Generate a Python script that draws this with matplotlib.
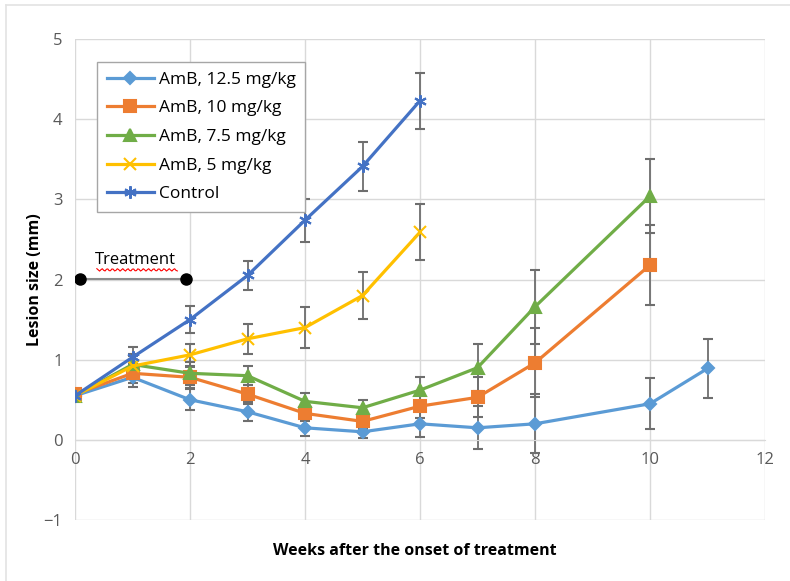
import numpy as np
import matplotlib.pyplot as plt
from matplotlib.lines import Line2D

plt.rcParams['font.family'] = ['Open Sans', 'DejaVu Sans']

# lesion size (mm) per week for each group
wk_125 = [0, 1, 2, 3, 4, 5, 6, 7, 8, 10, 11]
amb_125 = [0.55, 0.78, 0.50, 0.35, 0.15, 0.10, 0.20, 0.15, 0.20, 0.45, 0.89]
err_125 = [0.05, 0.12, 0.13, 0.12, 0.10, 0.08, 0.16, 0.27, 0.37, 0.32, 0.37]

wk_10 = [0, 1, 2, 3, 4, 5, 6, 7, 8, 10]
amb_10 = [0.57, 0.83, 0.78, 0.57, 0.33, 0.23, 0.42, 0.53, 0.96, 2.18]
err_10 = [0.05, 0.12, 0.13, 0.12, 0.10, 0.10, 0.15, 0.25, 0.43, 0.50]

wk_75 = [0, 1, 2, 3, 4, 5, 6, 7, 8, 10]
amb_75 = [0.55, 0.94, 0.83, 0.80, 0.48, 0.40, 0.62, 0.90, 1.66, 3.04]
err_75 = [0.05, 0.13, 0.14, 0.12, 0.11, 0.10, 0.17, 0.29, 0.46, 0.46]

wk_5 = [0, 1, 2, 3, 4, 5, 6]
amb_5 = [0.55, 0.92, 1.06, 1.26, 1.40, 1.80, 2.59]
err_5 = [0.05, 0.13, 0.14, 0.19, 0.26, 0.29, 0.35]

wk_ctl = [0, 1, 2, 3, 4, 5, 6]
control = [0.55, 1.03, 1.50, 2.05, 2.74, 3.41, 4.23]
err_ctl = [0.05, 0.13, 0.17, 0.18, 0.27, 0.30, 0.35]

labels = ['AmB, 12.5 mg/kg', 'AmB, 10 mg/kg', 'AmB, 7.5 mg/kg',
          'AmB, 5 mg/kg', 'Control']
treat_x = [0.08, 1.93]
treat_y = [2.01, 2.01]

fig = plt.figure(figsize=(7.9, 5.81), dpi=100)
# faint chart-area frame
fig.add_artist(Line2D([6 / 790, 1], [1 - 5 / 581, 1 - 5 / 581],
                      color='#e3e3e3', lw=1.2))
fig.add_artist(Line2D([6 / 790, 6 / 790], [0, 1 - 5 / 581],
                      color='#e3e3e3', lw=1.2))

ax = fig.add_axes([75 / 790, 61 / 581, 690 / 790, 481 / 581])

series = [
    (wk_125, amb_125, err_125, '#5B9BD5', 'D', 6),
    (wk_10, amb_10, err_10, '#ED7D31', 's', 8),
    (wk_75, amb_75, err_75, '#70AD47', '^', 8),
    (wk_5, amb_5, err_5, '#FFC000', 'x', 8),
    (wk_ctl, control, err_ctl, '#4472C4', (6, 2, 0), 9),
]
handles = []
for (x, y, e, c, m, ms), lab in zip(series, labels):
    ax.errorbar(x, y, yerr=e, color=c, lw=2.3, marker=m, ms=ms,
                mec=c, mew=1.5, ecolor='#6e6e6e', elinewidth=1.3,
                capsize=3.5, capthick=1.3)
    handles.append(Line2D([], [], color=c, lw=2.3, marker=m, ms=ms,
                          mec=c, mew=1.5, label=lab))

# treatment window
ax.plot(treat_x, treat_y, color='#8c8c8c', lw=1.5, zorder=5)
ax.plot(treat_x, treat_y, 'o', color='black', ms=8, zorder=6)
ax.text(1.05, 2.14, 'Treatment', ha='center', va='bottom', fontsize=12,
        color='black')
sx = np.linspace(0.38, 1.78, 60)
ax.plot(sx, 2.12 + 0.015 * np.sin(sx * 70), color='red', lw=0.8)

ax.set_xlim(0, 12)
ax.set_ylim(-1, 5)
ax.set_xticks(range(0, 13, 2))
ax.set_yticks(range(-1, 6))
ax.grid(True, color='#d9d9d9', lw=1)
ax.set_axisbelow(True)
for s in ['top', 'right', 'left']:
    ax.spines[s].set_visible(False)
ax.spines['bottom'].set_position(('data', 0))
ax.spines['bottom'].set_color('#d9d9d9')
ax.tick_params(length=0, labelsize=12, labelcolor='#595959', pad=9)

fig.text(35 / 790, 1 - 280 / 581, 'Lesion size (mm)', rotation=90,
         ha='center', va='center', fontsize=11.5, fontweight='bold')
fig.text(415 / 790, 1 - 551 / 581, 'Weeks after the onset of treatment',
         ha='center', va='center', fontsize=11.5, fontweight='bold')

leg = ax.legend(handles=handles, loc='upper left',
                bbox_to_anchor=(0.032, 0.952), borderaxespad=0,
                fontsize=12.5, frameon=True, fancybox=False,
                edgecolor='#a6a6a6', framealpha=1, handlelength=2.7,
                handletextpad=0.3, labelspacing=0.72, borderpad=0.55)
leg.get_frame().set_linewidth(1)

fig.savefig('out.png', dpi=100)
